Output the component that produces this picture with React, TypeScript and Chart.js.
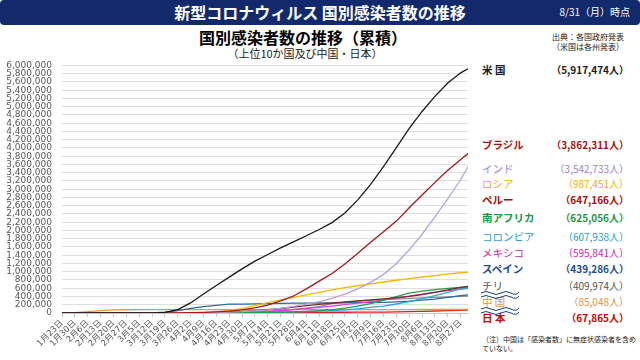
import React, { useEffect, useRef } from "react";
import { Chart, registerables } from "chart.js";

Chart.register(...registerables);

// Weekly dates (plus final date) of the series
const dateLabels = [
  "1月23日", "1月30日", "2月6日", "2月13日", "2月20日", "2月27日", "3月5日", "3月12日",
  "3月19日", "3月26日", "4月2日", "4月9日", "4月16日", "4月23日", "4月30日", "5月7日",
  "5月14日", "5月21日", "5月28日", "6月4日", "6月11日", "6月18日", "6月25日", "7月2日",
  "7月9日", "7月16日", "7月23日", "7月30日", "8月6日", "8月13日", "8月20日", "8月27日", "8月31日",
];

const us = [1, 6, 12, 15, 15, 16, 217, 1663, 13677, 83836, 243453, 461437, 667801, 869170, 1069424, 1257023, 1417774, 1577147, 1721750, 1872660, 2023347, 2191052, 2422312, 2739879, 3118168, 3545077, 4005414, 4473974, 4883582, 5248958, 5573847, 5820000, 5917474];
const brazil = [0, 0, 0, 0, 0, 1, 3, 52, 428, 2433, 6836, 15927, 28320, 45757, 78162, 125218, 188974, 291579, 411821, 584016, 772416, 955377, 1188631, 1448753, 1713160, 1966748, 2227514, 2552265, 2859073, 3164785, 3456652, 3717156, 3862311];
const india = [0, 1, 3, 3, 3, 3, 29, 73, 173, 649, 2069, 5865, 12380, 21797, 33050, 52952, 78003, 112359, 158333, 216919, 276583, 354065, 456183, 585493, 742417, 936181, 1192915, 1531669, 1908254, 2329638, 2767273, 3234474, 3542733];
const russia = [0, 0, 2, 2, 2, 2, 4, 28, 199, 840, 3548, 10131, 27938, 62773, 106498, 177160, 252245, 317554, 379051, 440538, 501800, 560321, 613994, 660231, 706240, 751612, 793720, 834499, 871894, 905762, 942106, 975576, 987451];
const peru = [0, 0, 0, 0, 0, 0, 0, 22, 234, 580, 1414, 5256, 12491, 20914, 36976, 58526, 80604, 108769, 141779, 178914, 208823, 240908, 268602, 292004, 316448, 341586, 371096, 400683, 447624, 498555, 558420, 621997, 647166];
const southAfrica = [0, 0, 0, 0, 0, 0, 1, 17, 150, 927, 1462, 1934, 2605, 3953, 5647, 8232, 12074, 18003, 27403, 40792, 58568, 83890, 118375, 168061, 224665, 311049, 394948, 482169, 529877, 568919, 596060, 618286, 625056];
const colombia = [0, 0, 0, 0, 0, 0, 0, 9, 102, 470, 1161, 2223, 3233, 4561, 6507, 9456, 13610, 18330, 25366, 33354, 43682, 60217, 77113, 102009, 133973, 165169, 218428, 276055, 345714, 422519, 502178, 582022, 607938];
const mexico = [0, 0, 0, 0, 0, 0, 5, 12, 118, 585, 1510, 3441, 6297, 11633, 19224, 29616, 42595, 59567, 81400, 105680, 133974, 165455, 202951, 238511, 275003, 317635, 362274, 408449, 456100, 505751, 543806, 579914, 595841];
const spain = [0, 0, 1, 2, 2, 15, 282, 3146, 17963, 57786, 110238, 153222, 182816, 213024, 213435, 221447, 228691, 233037, 237906, 240660, 242707, 245268, 247905, 250103, 253056, 258855, 270166, 285430, 309855, 337334, 377906, 419849, 439286];
const chile = [0, 0, 0, 0, 0, 0, 4, 33, 342, 1306, 3404, 5972, 8807, 11812, 16023, 25972, 37040, 57581, 86943, 118292, 154092, 225103, 259064, 284541, 306216, 323698, 336402, 353536, 366671, 378168, 388855, 402365, 409974];
const china = [830, 9692, 31161, 59804, 75465, 78824, 80552, 80813, 81008, 81340, 81620, 81865, 82341, 82804, 82874, 82885, 82929, 82967, 82995, 83022, 83064, 83265, 83449, 83537, 83581, 83612, 83729, 84060, 84528, 84786, 84917, 85013, 85048];
const japan = [1, 11, 25, 29, 84, 186, 317, 620, 924, 1307, 2384, 5347, 8582, 11772, 14088, 15463, 16120, 16424, 16683, 17064, 17332, 17668, 18110, 18874, 20719, 23473, 27956, 33049, 40212, 48928, 57381, 64668, 67865];

const yTickStep = 200000;
const yMax = 6000000;

type Row = { name: string; total: string; values: number[]; line: string; text: string; bold: boolean; y: number };

const rows: Row[] = [
  { name: "米 国", total: "（5,917,474人）", values: us, line: "#1a1a1a", text: "#1a1a1a", bold: true, y: 70 },
  { name: "ブラジル", total: "（3,862,311人）", values: brazil, line: "#a31818", text: "#a31515", bold: true, y: 145 },
  { name: "インド", total: "（3,542,733人）", values: india, line: "#b7a2de", text: "#9a82cc", bold: false, y: 169 },
  { name: "ロシア", total: "（987,451人）", values: russia, line: "#f5b800", text: "#efb000", bold: false, y: 184 },
  { name: "ペルー", total: "（647,166人）", values: peru, line: "#7a2a2a", text: "#a30d0d", bold: true, y: 200 },
  { name: "南アフリカ", total: "（625,056人）", values: southAfrica, line: "#21a04a", text: "#1d9548", bold: true, y: 218 },
  { name: "コロンビア", total: "（607,938人）", values: colombia, line: "#2aa7de", text: "#1f9fd6", bold: false, y: 237 },
  { name: "メキシコ", total: "（595,841人）", values: mexico, line: "#e040c8", text: "#d21cb0", bold: false, y: 253 },
  { name: "スペイン", total: "（439,286人）", values: spain, line: "#2f6a9e", text: "#1c4d8e", bold: true, y: 269 },
  { name: "チリ", total: "（409,974人）", values: chile, line: "#8c8c8c", text: "#555555", bold: false, y: 286 },
  { name: "中 国", total: "（85,048人）", values: china, line: "#e8954e", text: "#e8913a", bold: false, y: 302 },
  { name: "日 本", total: "（67,865人）", values: japan, line: "#e01c1c", text: "#cc0000", bold: true, y: 318 },
];

const dayOf = (label: string) => {
  const m = label.match(/(\d+)月(\d+)日/)!;
  return (Date.UTC(2020, Number(m[1]) - 1, Number(m[2])) - Date.UTC(2020, 0, 23)) / 86400000;
};
const days = dateLabels.map(dayOf);
const tickDays = days.filter((d) => d % 7 === 0);

const JP = "'Noto Sans CJK JP', sans-serif";

export default function App() {
  const ref = useRef<HTMLCanvasElement>(null);

  useEffect(() => {
    const chart = new Chart(ref.current!, {
      type: "line",
      data: {
        datasets: rows.map((r) => ({
          label: r.name,
          data: days.map((d, i) => ({ x: d, y: r.values[i] })),
          borderColor: r.line,
          backgroundColor: r.line,
          borderWidth: 1.3,
          pointRadius: 0,
          fill: false,
          tension: 0,
        })),
      },
      options: {
        animation: false,
        responsive: false,
        maintainAspectRatio: false,
        plugins: { legend: { display: false }, tooltip: { enabled: false } },
        layout: { padding: { left: 0, right: 8, top: 12, bottom: 0 } },
        scales: {
          x: {
            type: "linear",
            min: 0,
            max: days[days.length - 1],
            afterBuildTicks: (s: any) => {
              s.ticks = tickDays.map((v) => ({ value: v }));
            },
            afterFit: (s: any) => {
              s.height = 47;
            },
            ticks: {
              autoSkip: false,
              maxRotation: 45,
              minRotation: 45,
              padding: 1,
              color: "#595959",
              font: { size: 8.5, family: "'DejaVu Sans', 'Noto Sans CJK JP'" },
              callback: (v: any) => {
                const i = days.indexOf(Number(v));
                return i >= 0 ? dateLabels[i] : "";
              },
            },
            grid: { drawOnChartArea: false, drawTicks: true, tickLength: 4, color: "#c8c8c8" },
            border: { color: "#c8c8c8" },
          },
          y: {
            min: 0,
            max: yMax,
            afterFit: (s: any) => {
              s.width = 62;
            },
            ticks: {
              stepSize: yTickStep,
              autoSkip: false,
              padding: 10,
              color: "#595959",
              font: { size: 9, family: "'DejaVu Sans'" },
              callback: (v: any) => Number(v).toLocaleString("en-US"),
            },
            grid: { color: "#dedede", drawTicks: false },
            border: { display: false },
          },
        },
      },
    });
    return () => chart.destroy();
  }, []);

  return (
    <div style={{ position: "fixed", left: 0, top: 0, width: 640, height: 360, background: "#fff", overflow: "hidden", fontFamily: JP }}>
      <div style={{ position: "absolute", left: 0, top: 0, width: 640, height: 25, background: "#122a6b", borderRadius: 4 }} />
      <div style={{ position: "absolute", left: 0, top: 1, width: 640, textAlign: "center", color: "#fff", fontSize: 16, fontWeight: 700, lineHeight: "22px" }}>
        新型コロナウィルス 国別感染者数の推移
      </div>
      <div style={{ position: "absolute", right: 10, top: 4, color: "#fff", fontSize: 10, lineHeight: "16px" }}>8/31（月）時点</div>

      <div style={{ position: "absolute", left: 0, top: 26, width: 606, textAlign: "center", color: "#000", fontSize: 16, fontWeight: 700, lineHeight: "22px" }}>
        国別感染者数の推移（累積）
      </div>
      <div style={{ position: "absolute", left: 0, top: 46, width: 610, textAlign: "center", color: "#222", fontSize: 11, lineHeight: "14px" }}>
        （上位10か国及び中国・日本）
      </div>
      <div style={{ position: "absolute", left: 548, top: 32, color: "#222", fontSize: 8, lineHeight: "10px", textAlign: "center", width: 80 }}>
        出典：各国政府発表
        <br />
        （米国は各州発表）
      </div>

      <canvas ref={ref} width={476} height={310} style={{ position: "absolute", left: 0, top: 50 }} />

      {rows.map((r) => (
        <React.Fragment key={r.name}>
          <div style={{ position: "absolute", left: 482, top: r.y - 8, lineHeight: "16px", fontSize: 10.5, color: r.text, fontWeight: r.bold ? 700 : 400, whiteSpace: "nowrap" }}>
            {r.name}
          </div>
          <div style={{ position: "absolute", right: 11, top: r.y - 8, lineHeight: "16px", fontSize: 10, color: r.text, fontWeight: r.bold ? 700 : 400, whiteSpace: "nowrap" }}>
            {r.total}
          </div>
        </React.Fragment>
      ))}

      <svg style={{ position: "absolute", left: 481, top: 290 }} width={40} height={26}>
        {[1, 5, 17, 21].map((o) => (
          <path key={o} d={`M0 ${o + 2} Q5 ${o - 1} 10 ${o + 2} T20 ${o + 2} T30 ${o + 2} T38 ${o + 1}`} stroke="#1c3f7a" strokeWidth={1} fill="none" />
        ))}
      </svg>

      <div style={{ position: "absolute", left: 482, top: 335, width: 158, color: "#222", fontSize: 7, lineHeight: "9px" }}>
        （注）中国は「感染者数」に無症状感染者を含め
        <br />
        ていない。
      </div>
    </div>
  );
}
